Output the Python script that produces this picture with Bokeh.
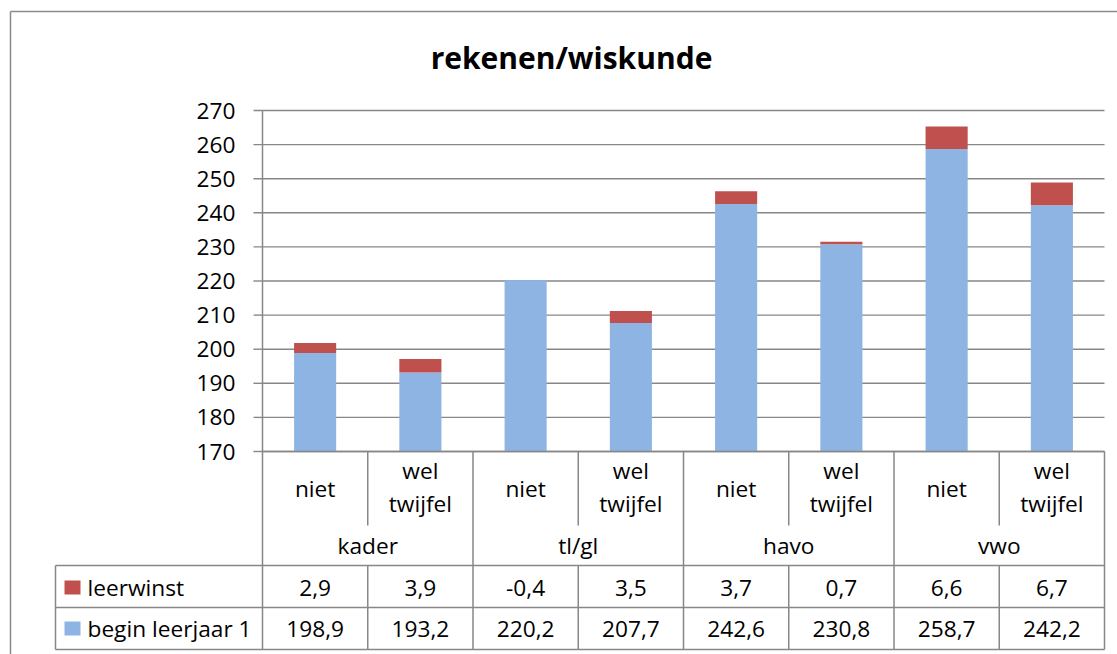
from bokeh.plotting import figure
from bokeh.models import Range1d
from bokeh.embed import file_html
from bokeh.resources import INLINE
from bokeh.core.properties import value
import numpy as np

# ---------------- data ----------------
title_text = "rekenen/wiskunde"
groups = ["kader", "tl/gl", "havo", "vwo"]
subgroups = ["niet", "wel twijfel"]
series_names = ["leerwinst", "begin leerjaar 1"]
leerwinst = [2.9, 3.9, -0.4, 3.5, 3.7, 0.7, 6.6, 6.7]
begin_leerjaar_1 = [198.9, 193.2, 220.2, 207.7, 242.6, 230.8, 258.7, 242.2]
y_ticks = [170, 180, 190, 200, 210, 220, 230, 240, 250, 260, 270]

# ---------------- style ----------------
RED = "#C0504D"
BLUE = "#8EB4E3"
GRAY = "#878787"
FONT = value("Open Sans")
TXT = "22.7px"

# ---------------- layout (page pixels) ----------------
W, H = 1117, 654
OFF = 0
PLOT_L, PLOT_R = 262, 1104
PLOT_T, PLOT_B = 110, 451
ymin, ymax = y_ticks[0], y_ticks[-1]
n = len(begin_leerjaar_1)
unit = (PLOT_R - PLOT_L) / n


def X(px):
    return (px - PLOT_L) / unit


def Y(py):
    return ymax - (py - PLOT_T) * (ymax - ymin) / (PLOT_B - PLOT_T)


p = figure(width=W, height=H, output_backend="svg", toolbar_location=None,
           x_range=Range1d(X(OFF), X(OFF + W)), y_range=Range1d(Y(OFF + H), Y(OFF)),
           x_axis_type=None, y_axis_type=None, min_border=0,
           outline_line_color=None, background_fill_color="white",
           border_fill_color="white")

# outer chart border (top and left visible)
p.segment(x0=[X(10), X(10)], y0=[Y(11), Y(11)], x1=[X(1117), X(10)], y1=[Y(11), Y(654)],
          line_color="#8a8a8a", line_width=1.5)

# title
p.text(x=[X(571)], y=[Y(57)], text=[title_text], text_font=FONT, text_font_size="30px",
       text_font_style="bold", text_align="center", text_baseline="middle", text_color="black")

# gridlines
p.segment(x0=[0] * len(y_ticks), y0=y_ticks, x1=[n] * len(y_ticks), y1=y_ticks,
          line_color=GRAY, line_width=1.4)
# tick marks
p.segment(x0=[X(253)] * len(y_ticks), y0=y_ticks, x1=[0] * len(y_ticks), y1=y_ticks,
          line_color=GRAY, line_width=1.4)
# tick labels
p.text(x=[X(235)] * len(y_ticks), y=y_ticks, text=[str(t) for t in y_ticks],
       text_font=FONT, text_font_size=TXT, text_align="right", text_baseline="middle",
       text_color="black")

# bars
xs = np.arange(n) + 0.5
beg = np.array(begin_leerjaar_1)
lw = np.array(leerwinst)
p.vbar(x=xs, width=0.4, bottom=ymin, top=beg, fill_color=BLUE, line_color=None)
red_bottom = np.clip(np.where(lw >= 0, beg, 0), ymin, None)
red_top = np.clip(np.where(lw >= 0, beg + lw, lw), ymin, None)
p.vbar(x=xs, width=0.4, bottom=red_bottom, top=red_top, fill_color=RED, line_color=None)

# ---------------- data table ----------------
y_sub_bottom = Y(525)
y_r1, y_r2, y_r3 = Y(565), Y(607), Y(649)
# axis line (left) down to table bottom
p.segment(x0=[0], y0=[y_r3], x1=[0], y1=[ymax], line_color=GRAY, line_width=1.5)
# full verticals at group borders
gb = [2 * (g + 1) for g in range(len(groups))]
p.segment(x0=gb, y0=[ymin] * len(gb), x1=gb, y1=[y_r3] * len(gb), line_color=GRAY, line_width=1.5)
# inner verticals (between subgroups)
ib = [2 * g + 1 for g in range(len(groups))]
p.segment(x0=ib, y0=[ymin] * len(ib), x1=ib, y1=[y_sub_bottom] * len(ib), line_color=GRAY, line_width=1.5)
p.segment(x0=ib, y0=[y_r1] * len(ib), x1=ib, y1=[y_r3] * len(ib), line_color=GRAY, line_width=1.5)
# horizontals
p.segment(x0=[0, X(55), X(55), X(55)], y0=[ymin, y_r1, y_r2, y_r3],
          x1=[n, n, n, n], y1=[ymin, y_r1, y_r2, y_r3], line_color=GRAY, line_width=1.5)
p.segment(x0=[X(55)], y0=[y_r1], x1=[X(55)], y1=[y_r3], line_color=GRAY, line_width=1.5)

# subgroup labels
sx, sy, st = [], [], []
for i in range(n):
    label = subgroups[i % len(subgroups)]
    parts = label.split(" ")
    if len(parts) == 1:
        sx.append(i + 0.5); sy.append(Y(488)); st.append(label)
    else:
        sx += [i + 0.5, i + 0.5]; sy += [Y(470), Y(503)]; st += parts
p.text(x=sx, y=sy, text=st, text_font=FONT, text_font_size=TXT, text_align="center",
       text_baseline="middle", text_color="black")
# group labels
p.text(x=[2 * g + 1 for g in range(len(groups))], y=[Y(545)] * len(groups), text=groups,
       text_font=FONT, text_font_size=TXT, text_align="center", text_baseline="middle",
       text_color="black")


def fmt(v):
    return f"{v:.1f}".replace(".", ",")


p.text(x=xs, y=[Y(587)] * n, text=[fmt(v) for v in leerwinst], text_font=FONT,
       text_font_size=TXT, text_align="center", text_baseline="middle", text_color="black")
p.text(x=xs, y=[Y(628)] * n, text=[fmt(v) for v in begin_leerjaar_1], text_font=FONT,
       text_font_size=TXT, text_align="center", text_baseline="middle", text_color="black")

# legend keys + names
p.rect(x=[X(72), X(72)], y=[Y(587), Y(628)], width=16, height=14, width_units="screen",
       height_units="screen", fill_color=[RED, BLUE], line_color=None)
p.text(x=[X(87), X(87)], y=[Y(587), Y(628)], text=series_names, text_font=FONT,
       text_font_size=TXT, text_align="left", text_baseline="middle", text_color="black")

open("out.html", "w").write(file_html(p, INLINE))
